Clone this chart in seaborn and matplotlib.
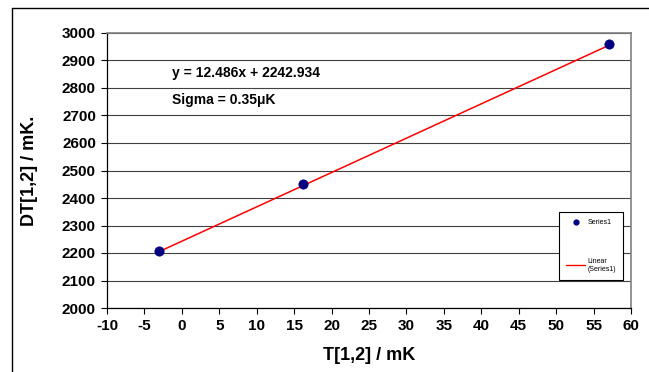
import matplotlib
matplotlib.use("Agg")
import matplotlib.pyplot as plt
import seaborn as sns
import numpy as np
import pandas as pd
from matplotlib.lines import Line2D

# Data
t_values = [-3.05, 16.15, 57.0]
dt_values = [2207, 2450, 2959]
slope = 12.486
intercept = 2242.934
x_ticks = list(range(-10, 61, 5))
y_ticks = list(range(2000, 3001, 100))
equation_text = "y = 12.486x + 2242.934"
sigma_text = "Sigma = 0.35\u03bcK"

sns.set_theme(style="white")
plt.rcParams['font.family'] = ['Liberation Sans', 'DejaVu Sans']
plt.rcParams['axes.unicode_minus'] = False
plt.rcParams['text.color'] = 'black'
plt.rcParams['axes.labelcolor'] = 'black'
plt.rcParams['xtick.color'] = 'black'
plt.rcParams['ytick.color'] = 'black'

df = pd.DataFrame({"T": t_values, "DT": dt_values})
fit_x = [min(t_values), max(t_values)]
fit_df = pd.DataFrame({"T": fit_x, "DT": [slope * v + intercept for v in fit_x]})

fig = plt.figure(figsize=(6.49, 3.72), dpi=100)
ax = fig.add_axes([107/649, 1 - 308/372, (631-107)/649, (308-33)/372])

# outer chart border (left and top)
fig.add_artist(Line2D([12/649, 12/649], [0, 1 - 8/372], color='black', lw=1.0,
                      transform=fig.transFigure))
fig.add_artist(Line2D([12/649, 1], [1 - 8/372, 1 - 8/372], color='black', lw=1.0,
                      transform=fig.transFigure))

ax.set_xlim(-10, 60)
ax.set_ylim(2000, 3000)
ax.set_xticks(x_ticks)
ax.set_yticks(y_ticks)
for yv in y_ticks:
    ax.axhline(yv, color='#404040', lw=0.8, zorder=0)

sns.lineplot(data=fit_df, x="T", y="DT", ax=ax, color='#ff0000', lw=1.1, zorder=2)
sns.scatterplot(data=df, x="T", y="DT", ax=ax, color='#000080', s=45,
                edgecolor='#000080', linewidth=0.5, zorder=3)

for s in ['left', 'bottom']:
    ax.spines[s].set_color('black')
    ax.spines[s].set_linewidth(0.9)
for s in ['top', 'right']:
    ax.spines[s].set_color('#808080')
    ax.spines[s].set_linewidth(1.2)

ax.tick_params(axis='both', which='major', direction='out', length=4, width=0.8,
               color='black', labelcolor='black', labelsize=11, pad=4,
               left=True, bottom=True)
for lab in ax.get_xticklabels() + ax.get_yticklabels():
    lab.set_fontweight('bold')

ax.set_xlabel("T[1,2] / mK", fontsize=13, fontweight='bold', labelpad=10,
              color='black')
ax.set_ylabel("DT[1,2] / mK.", fontsize=13, fontweight='bold', labelpad=17,
              color='black')

fig.text(172/649, 1 - 73/372, equation_text, fontsize=10, fontweight='bold',
         va='center', ha='left', color='black')
fig.text(172/649, 1 - 100/372, sigma_text, fontsize=10, fontweight='bold',
         va='center', ha='left', color='black')

handles = [Line2D([], [], marker='o', color='#000080', ls='none', markersize=3.5),
           Line2D([], [], color='#ff0000', lw=1.0)]
leg = ax.legend(handles, ["Series1", "Linear\n(Series1)"], loc='upper left',
                bbox_to_anchor=(559/649, 1 - 212/372), bbox_transform=fig.transFigure,
                fontsize=5, frameon=True, fancybox=False, edgecolor='black',
                framealpha=1, labelspacing=4.6, borderpad=1.0, handlelength=2.8,
                handletextpad=0.3, borderaxespad=0)
leg.get_frame().set_linewidth(0.8)
for t in leg.get_texts():
    t.set_color('black')

fig.savefig("out.png", dpi=100)
